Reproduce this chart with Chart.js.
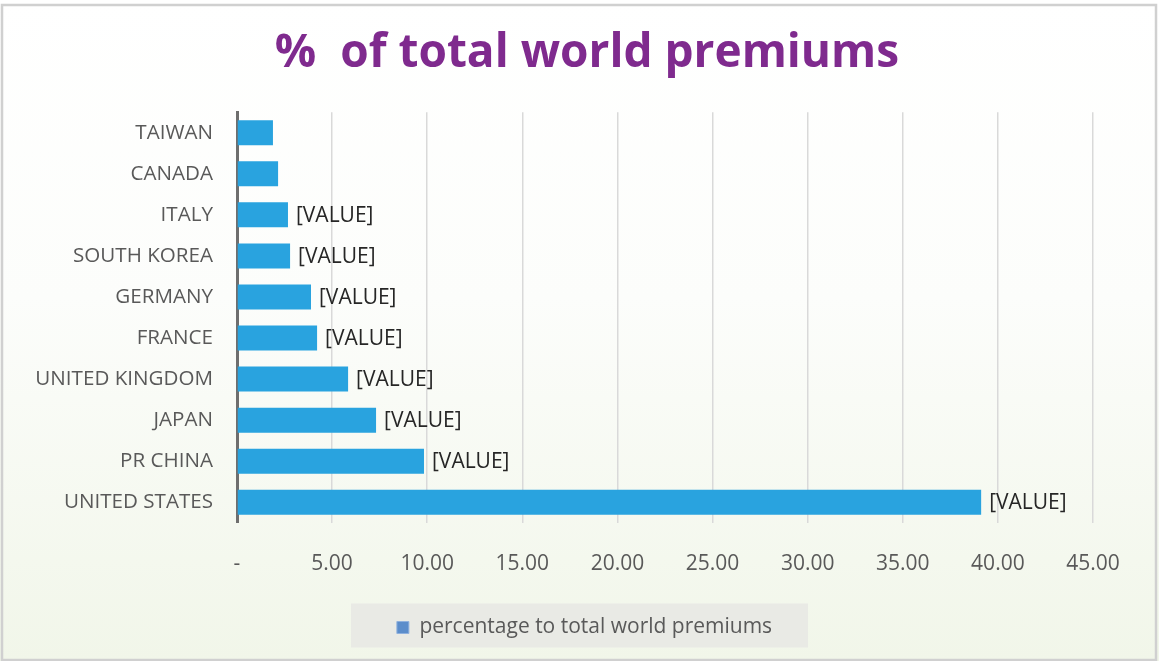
<!DOCTYPE html>
<html>
<head>
<meta charset="utf-8">
<script src="https://cdn.jsdelivr.net/npm/chart.js@4/dist/chart.umd.min.js"></script>
<style>
html,body{margin:0;padding:0;background:#fff;}
#wrap{width:1159px;height:661px;position:relative;}
</style>
</head>
<body>
<div id="wrap"><canvas id="c" width="1159" height="661"></canvas></div>
<script>
const categories = ["TAIWAN","CANADA","ITALY","SOUTH KOREA","GERMANY","FRANCE","UNITED KINGDOM","JAPAN","PR CHINA","UNITED STATES"];
const premiumShare = [1.89, 2.16, 2.68, 2.79, 3.89, 4.21, 5.84, 7.31, 9.83, 39.12];
const valueLabels = ["", "", "[VALUE]", "[VALUE]", "[VALUE]", "[VALUE]", "[VALUE]", "[VALUE]", "[VALUE]", "[VALUE]"];
const seriesName = "percentage to total world premiums";
const chartTitle = "%  of total world premiums";

const bgPlugin = {
  id: 'bg',
  afterLayout(chart) {
    // centre title and legend over the whole card (as in the reference)
    if (chart.titleBlock) { chart.titleBlock.left = 15; chart.titleBlock.right = 1159; chart.titleBlock.width = 1144; }
    if (chart.legend) {
      const lg = chart.legend;
      lg.left = 10; lg.right = 1159; lg.width = 1149;
    }
  },
  beforeDraw(chart) {
    const ctx = chart.ctx, w = chart.width, h = chart.height;
    ctx.save();
    const g = ctx.createLinearGradient(0, 0, 0, h);
    g.addColorStop(0, '#ffffff');
    g.addColorStop(0.45, '#fcfdfb');
    g.addColorStop(1, '#f1f6e9');
    ctx.fillStyle = g;
    ctx.fillRect(0, 0, w, h);
    ctx.strokeStyle = '#d0d0d0';
    ctx.lineWidth = 2.5;
    ctx.strokeRect(2, 5, w - 5, h - 6);
    const lg = chart.legend;
    if (lg && lg.legendHitBoxes && lg.legendHitBoxes.length) {
      const hb = lg.legendHitBoxes[0];
      const cx = (lg.left + lg.right) / 2 - 5;
      const cy = hb.top + hb.height / 2;
      ctx.fillStyle = '#e9eae5';
      ctx.fillRect(cx - 228.5, cy - 24, 457, 44);
    }
    ctx.restore();
  }
};

const valueLabelPlugin = {
  id: 'valueLabels',
  afterDatasetsDraw(chart) {
    const ctx = chart.ctx;
    const meta = chart.getDatasetMeta(0);
    ctx.save();
    ctx.font = '21px "Open Sans"';
    ctx.fillStyle = '#262626';
    ctx.textAlign = 'left';
    ctx.textBaseline = 'middle';
    meta.data.forEach((bar, i) => {
      if (valueLabels[i]) ctx.fillText(valueLabels[i], bar.x + 8, bar.y + 1);
    });
    ctx.restore();
  }
};

new Chart(document.getElementById('c'), {
  type: 'bar',
  data: {
    labels: categories,
    datasets: [{
      label: seriesName,
      data: premiumShare,
      backgroundColor: '#29a3df',
      borderWidth: 0,
      barPercentage: 0.61,
      categoryPercentage: 1.0
    }]
  },
  options: {
    indexAxis: 'y',
    responsive: false,
    animation: false,
    devicePixelRatio: 1,
    layout: { padding: { left: 0, right: 66, top: 0, bottom: 13 } },
    scales: {
      x: {
        min: 0, max: 45,
        ticks: {
          stepSize: 5,
          color: '#595959',
          font: { family: 'Open Sans', size: 21 },
          padding: 29,
          callback: v => v === 0 ? '-' : v.toFixed(2)
        },
        grid: { color: '#d9d9d9', lineWidth: 1.5, drawTicks: false },
        border: { display: false }
      },
      y: {
        ticks: {
          color: '#595959',
          font: { family: 'Open Sans', size: 20.6 },
          padding: 24
        },
        grid: { display: false, drawTicks: false },
        border: { display: true, color: '#6e6e6e', width: 3 },
        afterFit(scale) { scale.width = 237; }
      }
    },
    plugins: {
      title: {
        display: true,
        text: chartTitle,
        color: '#7f2a8e',
        font: { family: '"Open Sans"', size: 46, weight: 'bold' },
        padding: { top: 26, bottom: 31 }
      },
      legend: {
        display: true,
        position: 'bottom',
        labels: {
          color: '#595959',
          font: { family: 'Open Sans', size: 21 },
          boxWidth: 12,
          boxHeight: 12,
          padding: 11,
          generateLabels: chart => [{
            text: seriesName,
            fillStyle: '#5b8dcb',
            strokeStyle: '#8fb1de',
            lineWidth: 1,
            datasetIndex: 0,
            fontColor: '#595959'
          }]
        }
      },
      tooltip: { enabled: false }
    }
  },
  plugins: [bgPlugin, valueLabelPlugin]
});
</script>
</body>
</html>
